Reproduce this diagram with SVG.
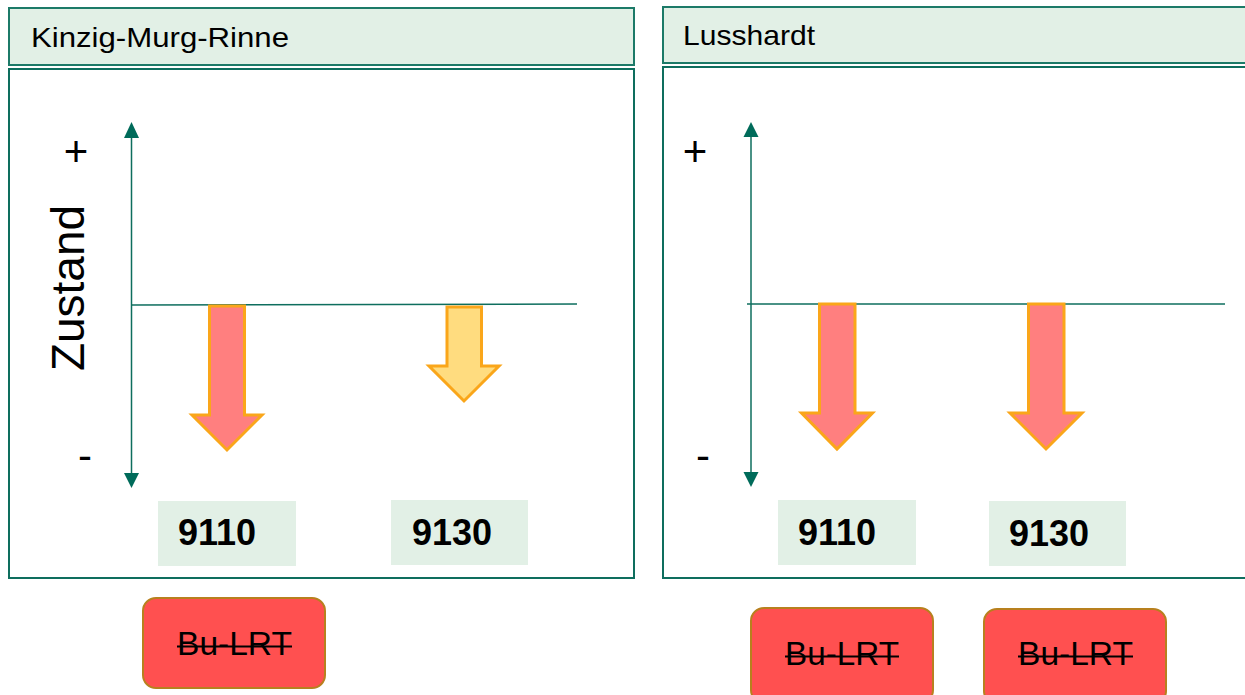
<svg xmlns="http://www.w3.org/2000/svg" width="1245" height="695" viewBox="0 0 1245 695">
<defs>
<style>
.hdr{fill:#E2F0E6;stroke:#1C7A68;stroke-width:2}
.panel{fill:#FFFFFF;stroke:#0E6E5E;stroke-width:2}
.axis{stroke:#0E6E5E;stroke-width:1.5;fill:none}
.tip{fill:#006B5A}
.red{fill:#FF7F7F;stroke:#FAA61A;stroke-width:3;stroke-linejoin:miter}
.yel{fill:#FFDC7F;stroke:#FAA61A;stroke-width:3;stroke-linejoin:miter}
.lbl{fill:#E2F0E6}
.bu{fill:#FF5050;stroke:#B8801E;stroke-width:2}
.t{font-family:"Liberation Sans",Arial,sans-serif;fill:#000}
.pm{font-family:"Liberation Sans",Arial,sans-serif;font-size:42px;fill:#000}
.num{font-family:"Liberation Sans",Arial,sans-serif;font-weight:bold;font-size:36px;fill:#000}
.butxt{font-family:"Liberation Sans",Arial,sans-serif;font-size:33px;fill:#000}
.strike{stroke:#000;stroke-width:2}
</style>
</defs>

<g id="left-header">
<rect class="hdr" x="9" y="8" width="625" height="57"/>
<text class="t" x="31" y="47" font-size="27" textLength="258" lengthAdjust="spacingAndGlyphs">Kinzig-Murg-Rinne</text>
</g>
<g id="left-panel">
<rect class="panel" x="9" y="69" width="625" height="509"/>
</g>

<g id="right-header">
<rect class="hdr" x="663" y="7" width="590" height="56"/>
<text class="t" x="683" y="45" font-size="28" textLength="132" lengthAdjust="spacingAndGlyphs">Lusshardt</text>
</g>
<g id="right-panel">
<rect class="panel" x="663" y="67" width="590" height="511"/>
</g>

<g id="connectors">
<line class="axis" x1="131.5" y1="136" x2="131.5" y2="475"/>
<polygon class="tip" points="131.5,122 124,138 139,138"/>
<polygon class="tip" points="131.5,488 124,473 139,473"/>
<line class="axis" x1="131" y1="305" x2="577" y2="304"/>
<line class="axis" x1="751" y1="135" x2="751" y2="474"/>
<polygon class="tip" points="751,122 743.5,137 758.5,137"/>
<polygon class="tip" points="751,487 743.5,472 758.5,472"/>
<line class="axis" x1="747" y1="304" x2="1225" y2="304"/>
</g>

<g id="left-axis-labels">
<text class="t" font-size="46" transform="translate(84,288) rotate(-90)" text-anchor="middle">Zustand</text>
<text class="pm" x="76" y="166" text-anchor="middle">+</text>
<text class="pm" x="85" y="470" text-anchor="middle">-</text>
</g>
<g id="right-axis-labels">
<text class="pm" x="695" y="166" text-anchor="middle">+</text>
<text class="pm" x="703" y="470" text-anchor="middle">-</text>
</g>

<g id="arrow-left-9110">
<polygon class="red" points="209.5,306 244.5,306 244.5,415 262,415 227,450 192,415 209.5,415"/>
</g>
<g id="arrow-left-9130">
<polygon class="yel" points="447,307 481.5,307 481.5,366 499,366 464,401 429,366 447,366"/>
</g>
<g id="arrow-right-9110">
<polygon class="red" points="819.5,304 855,304 855,413 872.5,413 837,449 801.5,413 819.5,413"/>
</g>
<g id="arrow-right-9130">
<polygon class="red" points="1028.5,304 1064,304 1064,413 1082,413 1046,449 1010,413 1028.5,413"/>
</g>

<g id="label-left-9110">
<rect class="lbl" x="158" y="501" width="138" height="65"/>
<text class="num" x="178" y="545">9110</text>
</g>
<g id="label-left-9130">
<rect class="lbl" x="391" y="500" width="137" height="65"/>
<text class="num" x="412" y="545">9130</text>
</g>
<g id="label-right-9110">
<rect class="lbl" x="778" y="500" width="138" height="65"/>
<text class="num" x="798" y="545">9110</text>
</g>
<g id="label-right-9130">
<rect class="lbl" x="989" y="501" width="137" height="65"/>
<text class="num" x="1009" y="546">9130</text>
</g>

<g id="bu-left">
<rect class="bu" x="143" y="598" width="182" height="90" rx="13"/>
<text class="butxt" x="177" y="655" textLength="115" lengthAdjust="spacingAndGlyphs">Bu-LRT</text>
<line class="strike" x1="177" y1="646.5" x2="292" y2="646.5"/>
</g>
<g id="bu-right-1">
<rect class="bu" x="751" y="608" width="182" height="95" rx="13"/>
<text class="butxt" x="785" y="665" textLength="114" lengthAdjust="spacingAndGlyphs">Bu-LRT</text>
<line class="strike" x1="785" y1="656.5" x2="899" y2="656.5"/>
</g>
<g id="bu-right-2">
<rect class="bu" x="984" y="609" width="182" height="95" rx="13"/>
<text class="butxt" x="1018" y="665" textLength="115" lengthAdjust="spacingAndGlyphs">Bu-LRT</text>
<line class="strike" x1="1018" y1="656.5" x2="1133" y2="656.5"/>
</g>
</svg>
